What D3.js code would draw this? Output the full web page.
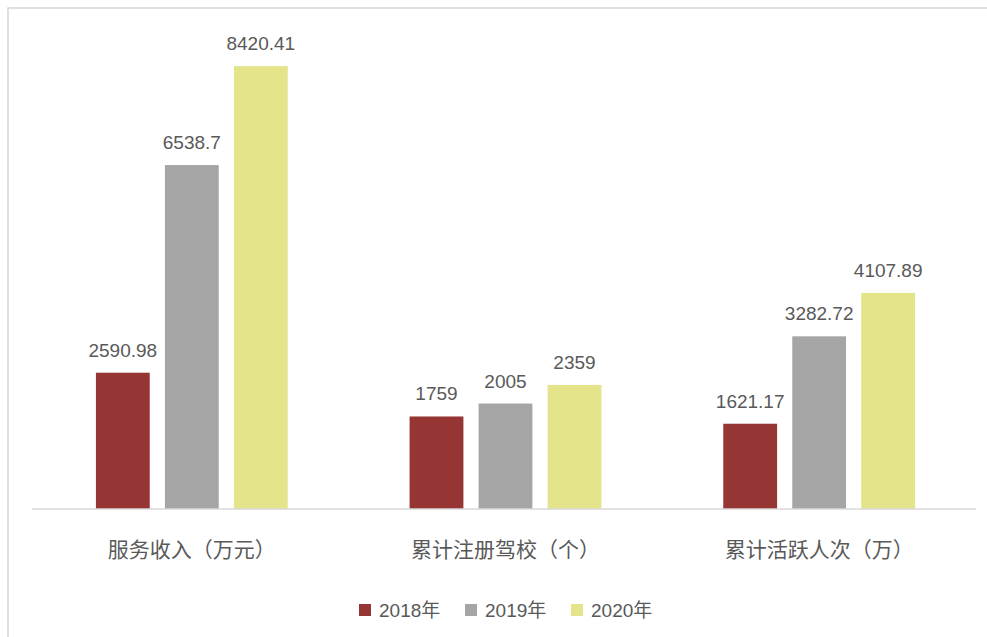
<!DOCTYPE html>
<html>
<head>
<meta charset="utf-8">
<script src="https://cdn.jsdelivr.net/npm/d3@7"></script>
<style>
  body { margin: 0; background: #fff; }
  svg { display: block; }
  text { font-family: "Liberation Sans", "Noto Sans CJK SC", sans-serif; fill: #595959; }
</style>
</head>
<body>
<svg id="chart" width="987" height="637"></svg>
<script>
// data
const categories = ["服务收入（万元）", "累计注册驾校（个）", "累计活跃人次（万）"];
const years = ["2018年", "2019年", "2020年"];
const values2018 = [2590.98, 1759, 1621.17];
const values2019 = [6538.7, 2005, 3282.72];
const values2020 = [8420.41, 2359, 4107.89];
const labels2018 = ["2590.98", "1759", "1621.17"];
const labels2019 = ["6538.7", "2005", "3282.72"];
const labels2020 = ["8420.41", "2359", "4107.89"];
const colors = ["#963634", "#a5a5a5", "#e4e48a"];

function init() {
    const svg = d3.select("#chart");
    const width = 987, height = 637;
    const baseY = 509, topY = 35.6;

    svg.append("rect").attr("width", width).attr("height", height).attr("fill", "#fff");

    // outer frame (top + left edges visible)
    svg.append("path")
        .attr("d", "M8,637 L8,8 L987,8")
        .attr("fill", "none")
        .attr("stroke", "#d6d6d6")
        .attr("stroke-width", 1.5);

    const x0 = d3.scaleBand().domain(categories).range([35, 976]);
    const x1 = d3.scaleBand().domain(years).range([0, 207]).paddingInner(0.22).paddingOuter(0.11);
    const y = d3.scaleLinear().domain([0, 9000]).range([baseY, topY]);

    const series = [values2018, values2019, values2020];
    const seriesLabels = [labels2018, labels2019, labels2020];

    const rows = [];
    categories.forEach((c, i) => {
        years.forEach((yr, j) => {
            rows.push({ cat: c, year: yr, value: series[j][i], label: seriesLabels[j][i], color: colors[j] });
        });
    });

    const g = svg.append("g");
    const groupX = c => x0(c) + x0.bandwidth() / 2 - 103.5;

    g.selectAll(".bar")
        .data(rows)
        .join("rect")
        .attr("class", "bar")
        .attr("x", d => groupX(d.cat) + x1(d.year))
        .attr("y", d => y(d.value))
        .attr("width", x1.bandwidth())
        .attr("height", d => baseY - y(d.value))
        .attr("fill", d => d.color);

    g.selectAll(".val")
        .data(rows)
        .join("text")
        .attr("class", "val")
        .attr("x", d => groupX(d.cat) + x1(d.year) + x1.bandwidth() / 2)
        .attr("y", d => y(d.value) - 16)
        .attr("text-anchor", "middle")
        .attr("font-size", "19px")
        .text(d => d.label);

    // category axis line
    svg.append("line")
        .attr("x1", 32).attr("x2", 976)
        .attr("y1", baseY).attr("y2", baseY)
        .attr("stroke", "#d9d9d9")
        .attr("stroke-width", 1.5);

    svg.selectAll(".cat")
        .data(categories)
        .join("text")
        .attr("class", "cat")
        .attr("x", d => x0(d) + x0.bandwidth() / 2)
        .attr("y", 549)
        .attr("dominant-baseline", "central")
        .attr("text-anchor", "middle")
        .attr("font-size", "21px")
        .text(d => d);

    // legend
    const lx = d3.scalePoint().domain(years).range([359, 571]);
    const leg = svg.selectAll(".leg")
        .data(years)
        .join("g")
        .attr("class", "leg")
        .attr("transform", d => "translate(" + lx(d) + ",610)");
    leg.append("rect")
        .attr("x", 0).attr("y", -6)
        .attr("width", 12).attr("height", 12)
        .attr("fill", (d, i) => colors[i]);
    leg.append("text")
        .attr("x", 20)
        .attr("y", 0)
        .attr("dominant-baseline", "central")
        .attr("font-size", "19px")
        .text(d => d);
}

window.onload = init;
</script>
</body>
</html>
